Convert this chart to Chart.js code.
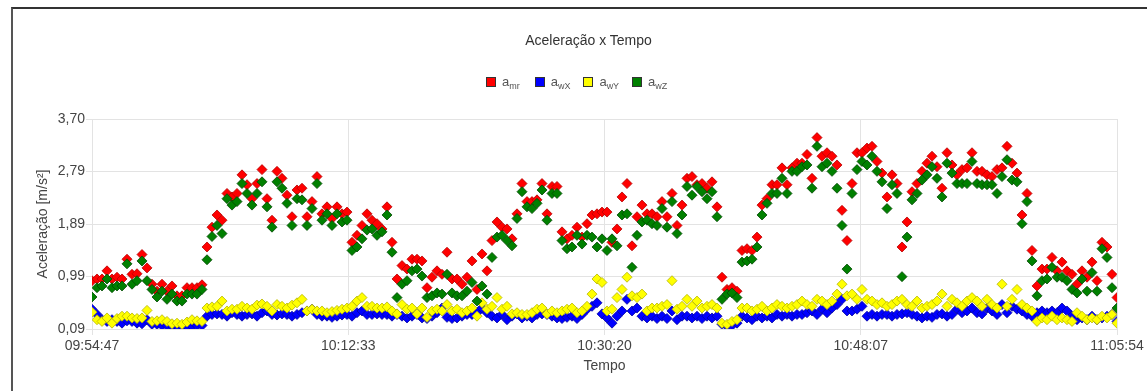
<!DOCTYPE html>
<html>
<head>
<meta charset="utf-8">
<script src="https://cdn.jsdelivr.net/npm/chart.js@4.4.0/dist/chart.umd.min.js"></script>
<style>
    body { margin: 0; background: #fff; font-family: "Liberation Sans", Arial, sans-serif; }
    #wrap { position: relative; width: 1147px; height: 391px; overflow: hidden; }
    #chart { position: absolute; left: 0; top: 0; }
    #frame { position: absolute; left: 11px; top: 7px; width: 1200px; height: 400px; border-left: 2px solid #555; border-top: 2px solid #333; pointer-events: none; }
    #title { position: absolute; left: 0; width: 1177px; top: 32px; text-align: center; font-size: 14px; color: #333; }
    .leg { position: absolute; top: 74px; font-size: 13px; color: #555; white-space: nowrap; line-height: 16px; }
    .leg i { display: inline-block; width: 8px; height: 8px; border: 1px solid #333; margin-right: 6px; vertical-align: -1px; }
    .leg sub { font-size: 9px; vertical-align: -3px; }
</style>
</head>
<body>
<div id="wrap">
    <canvas id="chart" width="1147" height="391"></canvas>
    <div id="title">Aceleração x Tempo</div>
    <div id="legend"></div>
    <div id="frame"></div>
</div>
<script>
    "use strict";

    // Axis labels
    var timeTicks = ["09:54:47", "10:12:33", "10:30:20", "10:48:07", "11:05:54"];
    var yTicks = [0.09, 0.9925, 1.895, 2.7975, 3.70];
    var yTickLabels = ["0,09", "0,99", "1,89", "2,79", "3,70"];

    // Series
    var seriesNames = [["a", "mr"], ["a", "wX"], ["a", "wY"], ["a", "wZ"]];
    var seriesColors = ["#ff0000", "#0000ff", "#ffff00", "#008000"];
    var seriesBorders = ["#b40000", "#0000a0", "#b4b400", "#004800"];

    var amr = [
        0.92,0.95,0.95,1.09,0.95,0.98,0.95,1.29,1.03,1.04,1.37,1.14,0.86,0.74,0.86,0.74,0.83,0.66,0.66,0.80,0.80,0.80,0.85,
        1.50,1.84,2.05,1.96,2.42,2.36,2.42,2.74,2.57,2.33,2.59,2.83,2.33,1.96,2.80,2.68,2.39,2.02,2.48,2.51,2.02,2.28,2.71,2.07,2.19,1.99,2.19,2.07,2.10,
        1.58,1.70,1.87,2.07,1.96,1.90,1.81,2.19,1.58,0.95,1.18,1.12,1.29,1.29,1.26,0.80,0.98,1.09,1.03,1.41,0.95,0.95,0.86,0.98,1.26,0.77,1.38,1.09,1.61,1.93,
        1.84,1.81,1.64,2.07,2.59,2.28,2.28,2.31,2.59,2.07,2.54,2.54,1.76,1.64,1.70,1.84,1.67,1.90,2.05,2.07,2.10,
        2.10,1.58,1.81,2.36,2.59,1.52,2.02,2.22,2.07,2.07,2.02,2.28,2.02,2.42,1.87,2.22,2.68,2.71,2.57,2.59,2.51,2.62,2.19,0.98,0.77,0.80,0.74,1.44,1.47,1.44,
        1.67,2.22,2.33,2.57,2.57,2.86,2.57,2.86,2.94,2.94,3.09,2.68,3.38,3.06,3.12,3.06,2.91,2.13,1.61,2.59,3.12,3.12,3.20,
        3.23,2.97,2.77,2.36,2.74,2.59,1.50,1.93,2.45,2.59,2.80,2.94,3.06,2.88,2.51,3.12,2.91,2.74,2.83,2.86,3.12,2.80,2.80,2.74,2.71,2.83,2.86,3.23,2.94,2.77,
        2.05,2.42,1.44,0.83,1.12,1.12,1.32,1.09,1.24,1.09,1.03,0.86,1.09,0.98,1.24,0.92,1.58,1.50,1.03,0.63
    ];
    var awX = [
        0.43,0.34,0.25,0.22,0.25,0.22,0.19,0.23,0.22,0.19,0.18,0.25,0.17,0.17,0.15,0.15,0.14,0.14,0.14,0.14,0.14,0.15,0.15,
        0.31,0.34,0.35,0.34,0.31,0.37,0.34,0.31,0.34,0.35,0.31,0.37,0.40,0.34,0.33,0.35,0.34,0.31,0.34,0.37,0.40,0.43,0.34,0.31,0.31,0.29,0.31,0.33,0.34,
        0.31,0.37,0.40,0.34,0.34,0.35,0.34,0.34,0.31,0.34,0.31,0.28,0.31,0.34,0.28,0.27,0.31,0.37,0.45,0.29,0.27,0.28,0.31,0.34,0.34,0.37,0.45,0.37,0.31,0.28,
        0.34,0.25,0.31,0.35,0.28,0.31,0.28,0.34,0.35,0.34,0.31,0.28,0.27,0.29,0.31,0.27,0.34,0.43,0.48,0.54,0.35,0.28,
        0.19,0.31,0.40,0.60,0.40,0.45,0.31,0.28,0.31,0.27,0.31,0.27,0.40,0.25,0.31,0.31,0.28,0.31,0.27,0.31,0.28,0.31,0.17,0.14,0.15,0.19,0.31,0.28,0.25,0.31,
        0.28,0.31,0.28,0.34,0.31,0.34,0.31,0.34,0.34,0.37,0.40,0.34,0.43,0.37,0.45,0.51,0.60,0.40,0.40,0.43,0.48,0.31,
        0.34,0.31,0.34,0.34,0.31,0.34,0.35,0.37,0.34,0.31,0.28,0.31,0.29,0.34,0.35,0.31,0.34,0.43,0.37,0.40,0.45,0.37,0.35,0.45,0.40,0.34,0.51,0.37,0.48,0.43,
        0.40,0.34,0.31,0.37,0.40,0.37,0.40,0.37,0.45,0.40,0.31,0.25,0.28,0.25,0.31,0.25,0.28,0.31,0.34,0.22
    ];
    var awY = [
        0.38,0.25,0.22,0.28,0.19,0.27,0.31,0.31,0.28,0.27,0.28,0.41,0.22,0.23,0.25,0.22,0.18,0.19,0.17,0.21,0.25,0.23,0.22,
        0.45,0.47,0.48,0.57,0.40,0.43,0.43,0.48,0.45,0.43,0.50,0.52,0.48,0.40,0.51,0.48,0.45,0.50,0.54,0.60,0.40,0.43,0.40,0.40,0.37,0.39,0.41,0.43,0.45,
        0.48,0.57,0.63,0.48,0.48,0.45,0.45,0.47,0.40,0.35,0.51,0.43,0.45,0.35,0.45,0.29,0.40,0.43,0.40,0.51,0.40,0.43,0.37,0.40,0.45,0.31,0.54,0.43,0.48,0.63,
        0.43,0.48,0.35,0.37,0.34,0.34,0.37,0.43,0.45,0.35,0.40,0.37,0.40,0.43,0.45,0.37,0.40,0.48,0.69,0.95,0.89,0.40,
        0.43,0.63,0.77,0.98,0.66,0.63,0.69,0.40,0.45,0.45,0.48,0.51,0.92,0.43,0.48,0.60,0.48,0.57,0.45,0.48,0.51,0.45,0.19,0.17,0.22,0.25,0.45,0.45,0.40,0.43,
        0.48,0.40,0.45,0.51,0.48,0.45,0.48,0.51,0.57,0.51,0.48,0.60,0.57,0.51,0.57,0.69,0.86,0.66,0.69,0.60,0.77,0.60,
        0.57,0.51,0.54,0.48,0.51,0.57,0.60,0.51,0.48,0.57,0.45,0.48,0.51,0.57,0.69,0.48,0.60,0.54,0.48,0.57,0.63,0.57,0.48,0.60,0.51,0.45,0.86,0.48,0.60,0.77,
        0.51,0.45,0.40,0.22,0.28,0.25,0.31,0.25,0.28,0.25,0.22,0.37,0.31,0.25,0.28,0.25,0.31,0.28,0.34,0.19
    ];
    var awZ = [
        0.64,0.80,0.83,0.95,0.80,0.83,0.83,1.21,0.86,0.92,1.26,0.92,0.77,0.64,0.74,0.60,0.69,0.57,0.57,0.69,0.69,0.69,0.77,
        1.28,1.68,1.87,1.73,2.33,2.22,2.28,2.59,2.42,2.22,2.42,2.62,2.19,1.84,2.62,2.51,2.25,1.87,2.33,2.31,1.87,2.16,2.59,1.96,2.07,1.87,2.07,1.93,1.96,
        1.44,1.50,1.64,1.79,1.81,1.70,1.76,2.05,1.41,0.63,0.86,0.92,1.09,1.12,1.00,0.63,0.66,0.71,0.69,1.03,0.71,0.66,0.66,0.74,0.89,0.57,0.83,0.69,1.32,1.67,
        1.70,1.61,1.52,1.99,2.45,2.19,2.16,2.25,2.48,1.96,2.42,2.42,1.61,1.47,1.50,1.70,1.55,1.70,1.67,1.50,1.64,
        1.44,1.64,1.52,2.05,2.07,1.15,1.70,1.93,1.96,1.90,1.87,2.16,1.84,2.28,1.73,2.05,2.54,2.39,2.54,2.45,2.33,2.45,2.02,0.60,0.69,0.71,0.63,1.24,1.26,1.29,
        1.50,2.05,2.25,2.42,2.42,2.68,2.42,2.80,2.80,2.88,2.91,2.51,3.23,2.88,2.94,2.80,2.51,1.87,1.12,2.42,2.83,2.97,2.91,
        3.06,2.80,2.62,2.16,2.57,2.42,0.99,1.67,2.31,2.42,2.65,2.74,2.88,2.68,2.36,2.94,2.77,2.59,2.59,2.59,2.97,2.59,2.57,2.57,2.57,2.42,2.71,3.00,2.65,2.62,
        1.90,2.28,1.26,0.66,0.92,0.95,1.15,0.98,0.98,0.92,0.77,0.71,0.95,0.74,1.06,0.74,1.47,1.32,0.80,0.45
    ];

    var allSeries = [amr, awX, awY, awZ];
    var lastIndex = amr.length - 1;


    // Legend (html, for the subscripts)
    var legend = document.getElementById("legend");
    seriesNames.forEach(function (name, k) {
        var item = document.createElement("div");
        item.className = "leg";
        item.style.left = (486 + k * 48.7) + "px";
        item.innerHTML = '<i style="background:' + seriesColors[k] + '"></i>' + name[0] + "<sub>" + name[1] + "</sub>";
        legend.appendChild(item);
    });


    // Chart
    Chart.defaults.font.family = '"Liberation Sans", Arial, sans-serif';
    Chart.defaults.font.size = 14;
    Chart.defaults.color = "#444";

    var gridColor = "#e3e3e3";

    var ctx = document.getElementById("chart").getContext("2d");
    var myChart = new Chart(ctx, {
        type: "scatter",
        data: {
            datasets: allSeries.map(function (values, k) {
                return {
                    label: seriesNames[k].join(""),
                    data: values.map(function (v, i) { return {x: i, y: v}; }),
                    backgroundColor: seriesColors[k],
                    borderColor: seriesBorders[k],
                    borderWidth: 0.8,
                    pointStyle: "rectRot",
                    pointRadius: 5,
                    pointHoverRadius: 5,
                    order: 3 - k,
                    clip: 0
                };
            })
        },
        options: {
            responsive: false,
            animation: false,
            devicePixelRatio: 1,
            layout: {padding: {left: 31, right: 30, top: 119, bottom: 12}},
            plugins: {
                legend: {display: false},
                title: {display: false},
                tooltip: {enabled: false}
            },
            scales: {
                x: {
                    type: "linear",
                    min: 0,
                    max: lastIndex,
                    afterBuildTicks: function (scale) {
                        scale.ticks = timeTicks.map(function (t, k) {
                            return {value: k * lastIndex / (timeTicks.length - 1)};
                        });
                    },
                    afterFit: function (scale) { scale.height = 50; },
                    ticks: {
                        autoSkip: false,
                        maxRotation: 0,
                        padding: 3,
                        callback: function (v, i) { return timeTicks[i]; }
                    },
                    grid: {color: gridColor, tickLength: 6},
                    border: {color: gridColor},
                    title: {display: true, text: "Tempo", color: "#444"}
                },
                y: {
                    min: 0.09,
                    max: 3.70,
                    afterBuildTicks: function (scale) {
                        scale.ticks = yTicks.map(function (v) { return {value: v}; });
                    },
                    afterFit: function (scale) { scale.width = 61; },
                    ticks: {
                        padding: 1,
                        callback: function (v, i) { return yTickLabels[i]; }
                    },
                    grid: {color: gridColor, tickLength: 6},
                    border: {color: gridColor},
                    title: {display: true, text: "Aceleração [m/s²]", color: "#444"}
                }
            }
        }
    });
</script>
</body>
</html>
